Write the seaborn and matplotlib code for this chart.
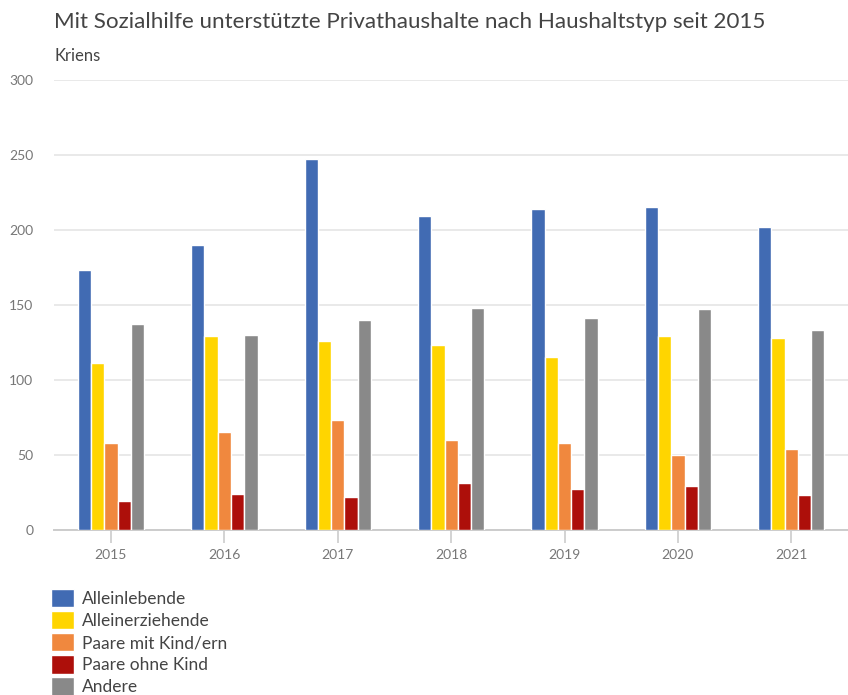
import pandas as pd
import matplotlib.pyplot as plt
import seaborn as sns
from matplotlib.patches import Patch

# data
years = ["2015", "2016", "2017", "2018", "2019", "2020", "2021"]
alleinlebende = [173, 190, 247, 209, 214, 215, 202]
alleinerziehende = [111, 129, 126, 123, 115, 129, 128]
paare_mit_kind = [58, 65, 73, 60, 58, 50, 54]
paare_ohne_kind = [19, 24, 22, 31, 27, 29, 23]
andere = [137, 130, 140, 148, 141, 147, 133]

series = {
    "Alleinlebende": alleinlebende,
    "Alleinerziehende": alleinerziehende,
    "Paare mit Kind/ern": paare_mit_kind,
    "Paare ohne Kind": paare_ohne_kind,
    "Andere": andere,
}
colors = ["#416bb3", "#ffd500", "#f0883e", "#ad0f0a", "#898989"]

df = pd.DataFrame(
    [(y, k, v[i]) for k, v in series.items() for i, y in enumerate(years)],
    columns=["Jahr", "Typ", "Anzahl"],
)

sns.set_style("white")
plt.rcParams["font.family"] = ["Lato", "DejaVu Sans"]

fig = plt.figure(figsize=(8.48, 6.95), dpi=100)
ax = fig.add_axes([0.064, 0.238, 0.936, 0.647])

sns.barplot(data=df, x="Jahr", y="Anzahl", hue="Typ", palette=colors,
            saturation=1, width=0.585, edgecolor="white", linewidth=1, ax=ax,
            legend=False, zorder=3)

ax.set_ylim(0, 300)
ax.set_xlim(-0.5, 6.5)
ax.set_yticks(range(0, 301, 50))
ax.grid(axis="y", color="#e9e9e9", linewidth=1.4, zorder=0)
ax.set_xlabel("")
ax.set_ylabel("")
for s in ["top", "right", "left"]:
    ax.spines[s].set_visible(False)
ax.spines["bottom"].set_color("#cccccc")
ax.spines["bottom"].set_linewidth(1.4)
ax.tick_params(axis="x", length=9, width=1.2, color="#cccccc", labelsize=10,
               labelcolor="#777777", pad=5, bottom=True)
ax.tick_params(axis="y", length=0, labelsize=10, labelcolor="#777777", pad=15)

fig.text(0.064, 0.968, "Mit Sozialhilfe unterstützte Privathaushalte nach Haushaltstyp seit 2015",
         fontsize=16.1, color="#444444", va="center")
fig.text(0.064, 0.92, "Kriens", fontsize=12, color="#444444", va="center")

handles = [Patch(facecolor=c, edgecolor="white", label=k) for k, c in zip(series, colors)]
fig.legend(handles=handles, loc="upper left", bbox_to_anchor=(0.06, 0.153),
           frameon=False, fontsize=12.5, handlelength=1.35, handleheight=1.25,
           handletextpad=0.45, labelspacing=0.22, labelcolor="#444444",
           borderpad=0, borderaxespad=0)

fig.savefig("out.png", dpi=100)
